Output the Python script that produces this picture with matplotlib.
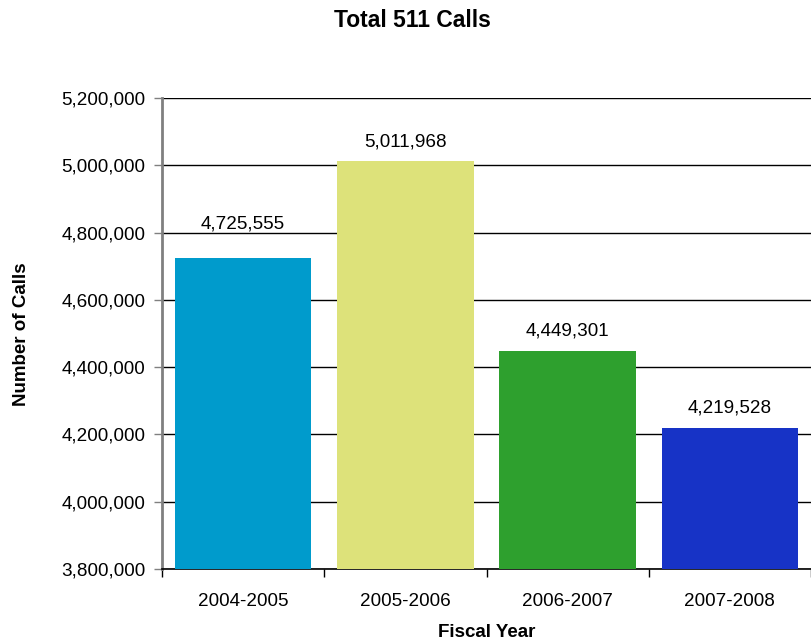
import matplotlib
matplotlib.use("Agg")
import matplotlib.pyplot as plt
from matplotlib.ticker import FuncFormatter, FixedLocator
import numpy as np

plt.rcParams['font.family'] = ['Liberation Sans', 'DejaVu Sans']

years = ["2004-2005", "2005-2006", "2006-2007", "2007-2008"]
calls = [4725555, 5011968, 4449301, 4219528]
colors = ["#009BCC", "#DDE27A", "#2EA02E", "#1733C6"]
# vertical offset (points) of each value label above its bar
label_offsets = [18, 8, 8, 8]

fig = plt.figure(figsize=(8.11, 6.42), dpi=100)
ax = fig.add_axes([0.1998, 0.1137, 0.8002, 0.7337])

x = np.arange(len(years))
bars = ax.bar(x, calls, width=0.84, color=colors, zorder=3)

ax.set_ylim(3800000, 5200000)
ax.set_xlim(-0.5, len(years) - 0.5)
ax.set_yticks(np.arange(3800000, 5200001, 200000))
ax.yaxis.set_major_formatter(FuncFormatter(lambda v, p: f"{int(v):,}"))
ax.yaxis.grid(True, color="black", linewidth=1.0, zorder=0)
ax.set_axisbelow(True)

# category ticks sit between bars; labels are centred under bars
ax.set_xticks(x)
ax.set_xticklabels(years, fontsize=13.6)
ax.tick_params(axis='x', which='major', length=0, pad=17)
ax.xaxis.set_minor_locator(FixedLocator(np.arange(-0.5, len(years), 1.0)))
ax.tick_params(axis='x', which='minor', length=6, width=1, color='black')
ax.tick_params(axis='y', length=6, width=1, color='#808080', labelsize=13.6, pad=6)

for side in ("top", "right"):
    ax.spines[side].set_visible(False)
ax.spines['left'].set_color('#808080')
ax.spines['left'].set_linewidth(2)
ax.spines['bottom'].set_color('black')
ax.spines['bottom'].set_linewidth(1.2)

for xi, v, off in zip(x, calls, label_offsets):
    ax.annotate(f"{v:,}", (xi, v), xytext=(0, off), textcoords="offset points",
                ha="center", va="bottom", fontsize=13.6)

fig.text(0.509, 0.968, "Total 511 Calls", ha="center", va="center",
         fontsize=16.5, fontweight="bold")
fig.text(0.6005, 0.015, "Fiscal Year", ha="center", va="center",
         fontsize=13.5, fontweight="bold")
fig.text(0.026, 0.48, "Number of Calls", ha="center", va="center",
         rotation=90, fontsize=13.5, fontweight="bold")

fig.savefig("out.png", dpi=100)
